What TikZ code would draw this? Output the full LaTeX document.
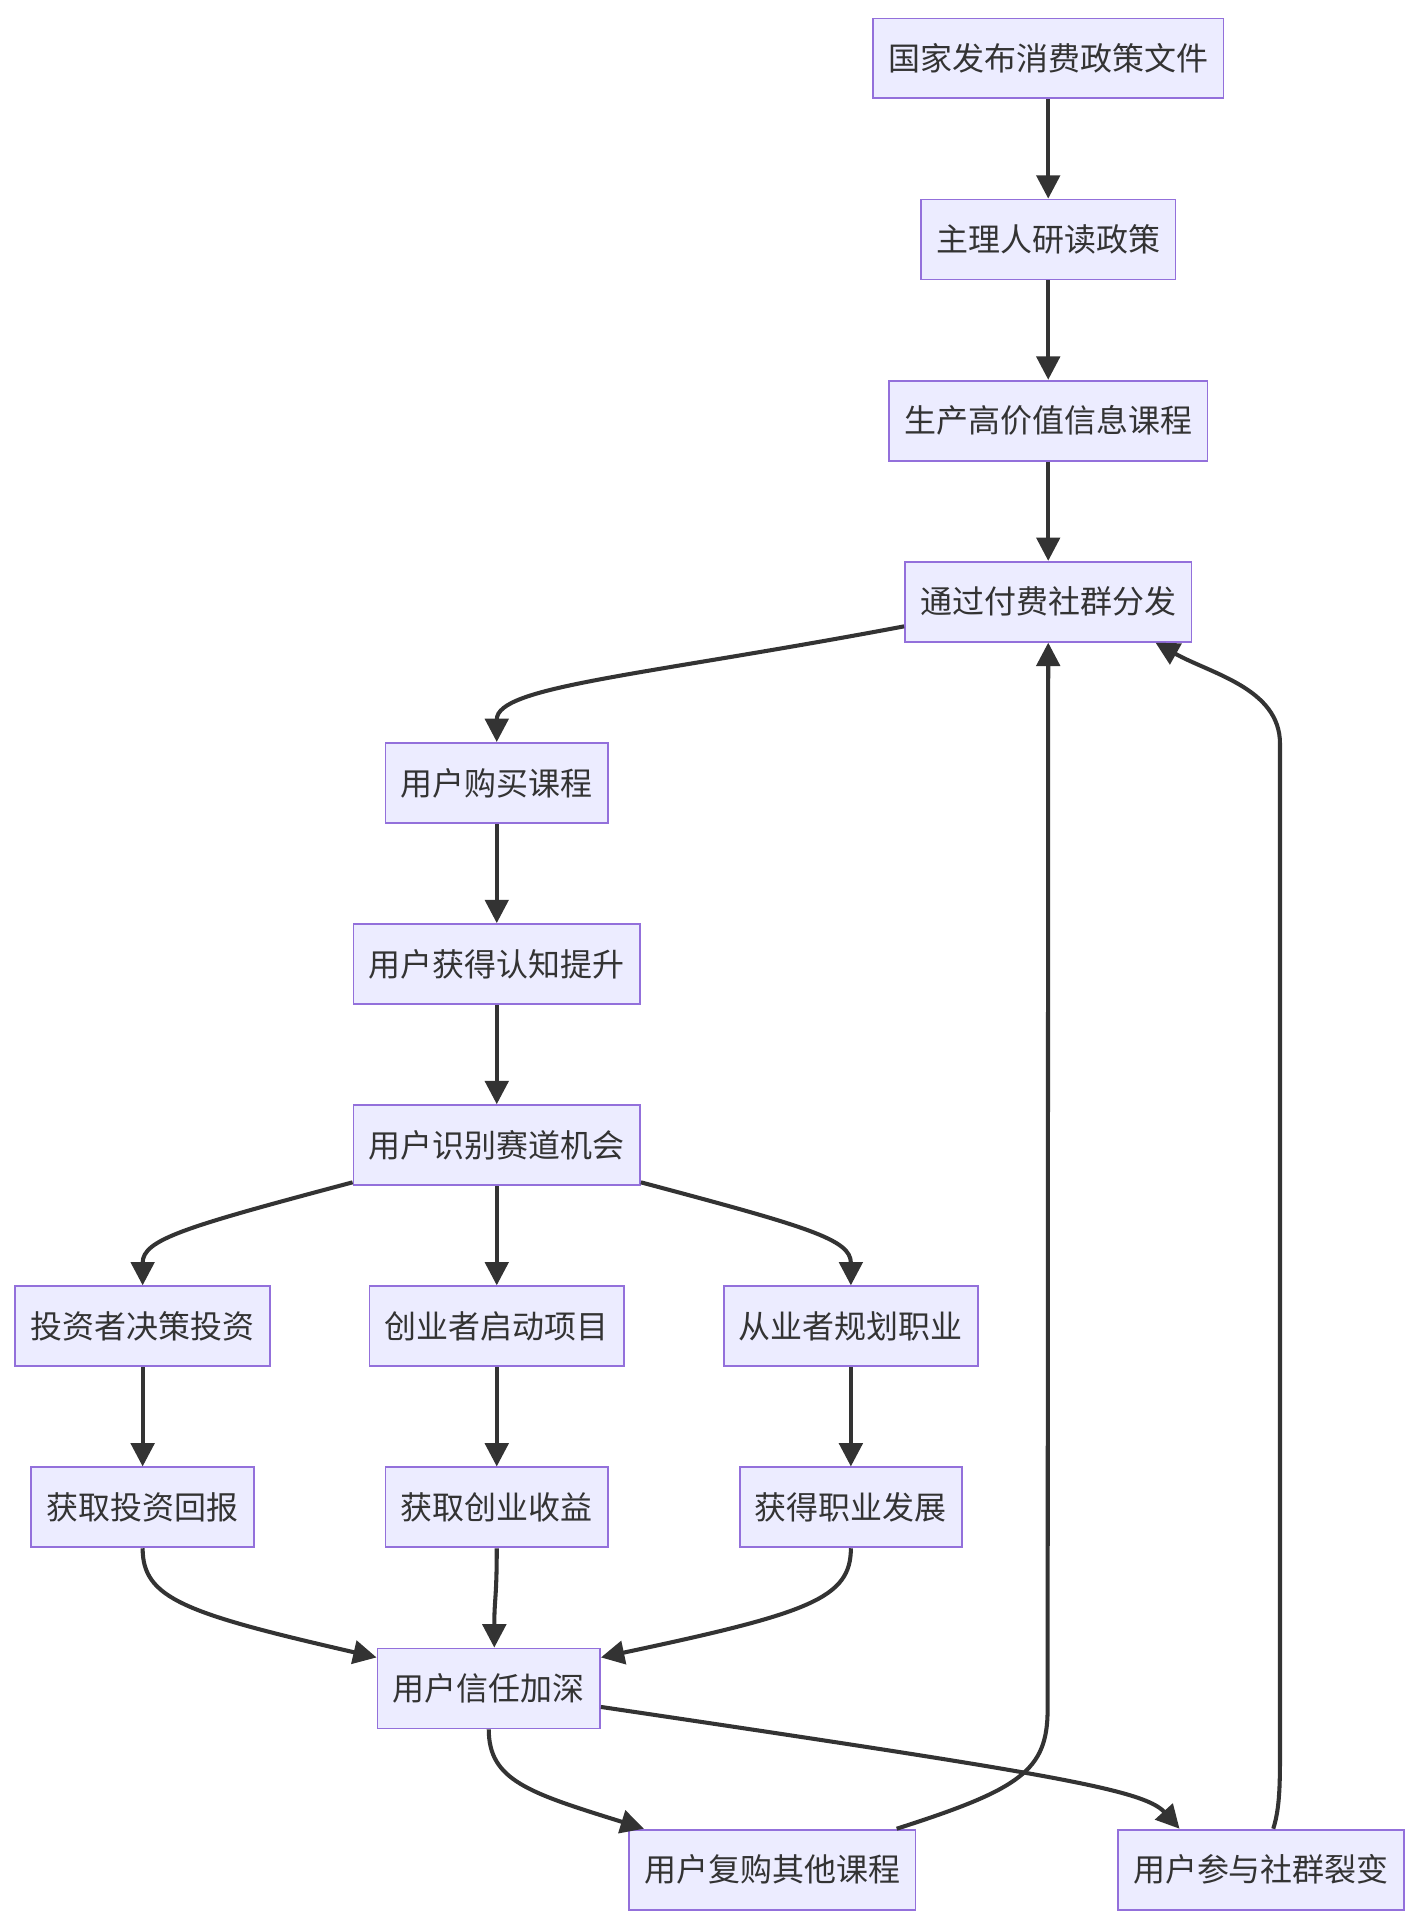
\documentclass[tikz,border=0pt]{standalone}
\usepackage{fontspec}
\setmainfont{Noto Sans CJK SC}
\usetikzlibrary{arrows.meta,calc}
\definecolor{boxfill}{HTML}{ECECFF}
\definecolor{boxline}{HTML}{9370DB}
\definecolor{ink}{HTML}{333333}
\begin{document}
\begin{tikzpicture}[x=1pt,y=-1pt,
  box/.style={draw=boxline,fill=boxfill,line width=1.5pt,minimum height=65pt,
    inner xsep=12.5pt,inner ysep=0pt,text=ink,font=\fontsize{26}{30}\selectfont},
  link/.style={draw=ink,line width=3.3pt,-{Triangle[length=19pt,width=19pt]}}]
\useasboundingbox (0,0) rectangle (1157,1568);
\node[box] (A) at (852.5,47.5)  {国家发布消费政策文件};
\node[box] (B) at (852.5,194.8) {主理人研读政策};
\node[box] (C) at (852.5,342.1) {生产高价值信息课程};
\node[box] (D) at (852.5,489.4) {通过付费社群分发};
\node[box] (E) at (404,636.7)   {用户购买课程};
\node[box] (F) at (404,784)     {用户获得认知提升};
\node[box] (G) at (404,931.3)   {用户识别赛道机会};
\node[box] (H) at (116,1078.6)  {投资者决策投资};
\node[box] (I) at (404,1078.6)  {创业者启动项目};
\node[box] (J) at (692,1078.6)  {从业者规划职业};
\node[box] (K) at (116,1225.9)  {获取投资回报};
\node[box] (L) at (404,1225.9)  {获取创业收益};
\node[box] (M) at (692,1225.9)  {获得职业发展};
\node[box] (N) at (397.5,1373.2){用户信任加深};
\node[box] (O) at (628,1520.5)  {用户复购其他课程};
\node[box] (P) at (1025.5,1520.5){用户参与社群裂变};

\draw[link] (A) -- (B);
\draw[link] (B) -- (C);
\draw[link] (C) -- (D);
\draw[link] ([yshift=-20pt]D.west) .. controls (520,550) and (404,558) .. (E.north);
\draw[link] (E) -- (F);
\draw[link] (F) -- (G);
\draw[link] ([yshift=3pt]G.south west) .. controls (150,998) and (116,1008) .. (H.north);
\draw[link] (G) -- (I);
\draw[link] ([yshift=3pt]G.south east) .. controls (658,998) and (692,1008) .. (J.north);
\draw[link] (H) -- (K);
\draw[link] (I) -- (L);
\draw[link] (J) -- (M);
\draw[link] (K.south) .. controls (116,1300) and (150,1312) .. ([yshift=-8pt]N.north west);
\draw[link] (L.south) .. controls (404,1300) and (402,1300) .. ([xshift=4.5pt]N.north);
\draw[link] (M.south) .. controls (692,1300) and (658,1312) .. ([yshift=-8pt]N.north east);
\draw[link] (N.south) .. controls (397.5,1448) and (430,1458) .. ([xshift=13pt]O.north west);
\draw[link] ([yshift=-15pt]N.east) .. controls (850,1442) and (930,1455) .. ([xshift=51pt]P.north west);
\draw[link] ([xshift=-16pt]O.north east) .. controls (830,1455) and (852,1440) .. (852,1390) -- (D.south);
\draw[link] ([xshift=10pt]P.north) .. controls (1041,1470) and (1041,1450) .. (1041,1420)
  -- (1041,605) .. controls (1041,560) and (985,548) .. ([xshift=-30pt]D.south east);
\end{tikzpicture}
\end{document}
